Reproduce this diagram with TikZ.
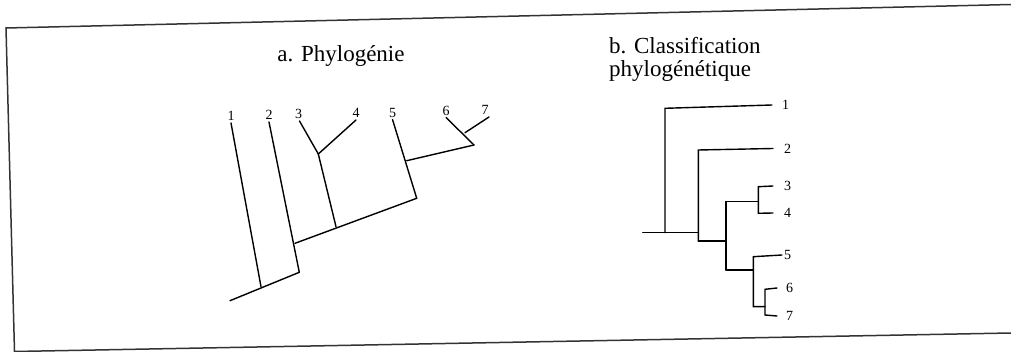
\documentclass[tikz,border=0pt]{standalone}
\usepackage{fontspec}
\setmainfont{Liberation Serif}
\begin{document}
\begin{tikzpicture}[x=1pt,y=-1pt,
  br/.style={line width=1.4pt,black,line cap=round},
  frm/.style={line width=1.5pt,black!80},
  lab/.style={font=\fontsize{14}{14}\selectfont,inner sep=0pt},
  ttl/.style={font=\fontsize{23}{23}\selectfont,inner sep=0pt,align=left}]
\useasboundingbox (0,0) rectangle (1011,352);
% frame
\coordinate (f1) at (1011,4.5);
\coordinate (f2) at (6,28);
\coordinate (f3) at (14.5,351.5);
\coordinate (f4) at (1011,333);
\draw[frm] (f1) -- (f2) -- (f3) -- (f4);
% titles
\node[ttl,anchor=base] (ta) at (341,61.5) {a. Phylogénie};
\node[ttl,anchor=base west] (tb1) at (609,53.5) {b. Classification};
\node[ttl,anchor=base west] (tb2) at (609,76.5) {phylogénétique};
% ---------- a. Phylogénie ----------
\coordinate (r) at (230,300.7);
\coordinate (n1) at (261,286.7);
\coordinate (n2) at (299.3,272.3);
\coordinate (n3) at (295,243.3);
\coordinate (n4) at (336,226.7);
\coordinate (n5) at (416.7,198.3);
\coordinate (n6) at (318.3,154);
\coordinate (n7) at (406.7,160.7);
\coordinate (n8) at (474,145);
\coordinate (n9) at (465,132.7);
\node[lab,anchor=south] (a1) at (231,121) {1};
\node[lab,anchor=south] (a2) at (269,120) {2};
\node[lab,anchor=south] (a3) at (298.5,119) {3};
\node[lab,anchor=south] (a4) at (356,118) {4};
\node[lab,anchor=south] (a5) at (392.5,117.5) {5};
\node[lab,anchor=south] (a6) at (446,115.5) {6};
\node[lab,anchor=south] (a7) at (485,115) {7};
\draw[br] (r) -- (n2);
\draw[br] (n1) -- ([yshift=-2pt]a1.south);
\draw[br] (n2) -- ([yshift=-2pt]a2.south);
\draw[br] (n3) -- (n5);
\draw[br] (n4) -- (n6);
\draw[br] (n6) -- ([yshift=-2pt,xshift=1pt]a3.south);
\draw[br] (n6) -- ([yshift=-2pt]a4.south);
\draw[br] (n5) -- ([yshift=-2pt]a5.south);
\draw[br] (n7) -- (n8);
\draw[br] (n8) -- ([yshift=-2pt]a6.south);
\draw[br] (n9) -- ([yshift=-2pt,xshift=4pt]a7.south);
% ---------- b. Classification ----------
\coordinate (R) at (642.7,232.7);
\coordinate (A) at (665,232.7);
\coordinate (Ab) at (698.3,232.7);
\coordinate (At) at (665,108.3);
\coordinate (Bt) at (698.3,150);
\coordinate (Bb) at (698.3,241);
\coordinate (Cb) at (726,241);
\coordinate (Ct) at (726,201.7);
\coordinate (Cl) at (726,270);
\coordinate (Dm) at (758.3,201.7);
\coordinate (Dt) at (758.3,186.7);
\coordinate (Db) at (758.3,213.3);
\coordinate (Em) at (753.3,270);
\coordinate (Et) at (753.3,256.7);
\coordinate (Eb) at (753.3,306.7);
\coordinate (Fm) at (765,306.7);
\coordinate (Ft) at (765,289.3);
\coordinate (Fb) at (765,315);
\node[lab,anchor=west] (b1) at (782,105) {1};
\node[lab,anchor=west] (b2) at (784,148.5) {2};
\node[lab,anchor=west] (b3) at (784,186) {3};
\node[lab,anchor=west] (b4) at (784,213) {4};
\node[lab,anchor=west] (b5) at (784,255) {5};
\node[lab,anchor=west] (b6) at (786,288) {6};
\node[lab,anchor=west] (b7) at (786,316) {7};
\draw[br] (R) -- (Ab);
\draw[br] (A) -- (At) -- ([xshift=-10pt]b1.west);
\draw[br] (Bb) -- (Bt) -- ([xshift=-11pt]b2.west);
\draw[br] (Bb) -- (Cb);
\draw[br] (Cl) -- (Ct) -- (Dm);
\draw[br] ([xshift=-11pt]b3.west) -- (Dt) -- (Db) -- ([xshift=-11pt]b4.west);
\draw[br] (Cl) -- (Em);
\draw[br] ([xshift=-2pt]b5.west) -- (Et) -- (Eb) -- (Fm);
\draw[br] ([xshift=-9pt]b6.west) -- (Ft) -- (Fb) -- ([xshift=-9pt]b7.west);
\end{tikzpicture}
\end{document}
